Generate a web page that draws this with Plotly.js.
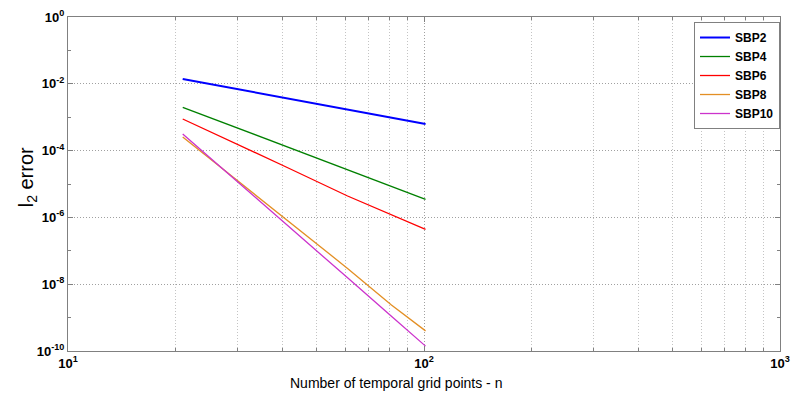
<!DOCTYPE html>
<html>
<head>
<meta charset="utf-8">
<script src="https://cdn.plot.ly/plotly-3.0.1.min.js"></script>
<style>
  html, body { margin: 0; padding: 0; background: #fff; }
  #chart { width: 792px; height: 394px; }
</style>
</head>
<body>
<div id="chart"></div>
<script>
// Data
const n = [21, 31, 41, 61, 81, 101];
const sbp2  = [1.39e-2, 6.48e-3, 3.73e-3, 1.70e-3, 9.66e-4, 6.25e-4];
const sbp4  = [1.98e-3, 4.11e-4, 1.34e-4, 2.64e-5, 8.36e-6, 3.48e-6];
const sbp6  = [8.83e-4, 1.33e-4, 3.23e-5, 4.37e-6, 1.22e-6, 4.4e-7];
const sbp8  = [2.55e-4, 9.46e-6, 8.83e-7, 2.97e-8, 2.38e-9, 4.0e-10];
const sbp10 = [3.14e-4, 8.53e-6, 6.3e-7, 1.55e-8, 1.09e-9, 1.40e-10];

const seriesNames = ['SBP2', 'SBP4', 'SBP6', 'SBP8', 'SBP10'];
const seriesData = [sbp2, sbp4, sbp6, sbp8, sbp10];
const seriesColors = ['#0000ff', '#008000', '#ff0000', '#e38f24', '#cc33cc'];
const seriesWidths = [2, 1.3, 1.3, 1.3, 1.3];

const xTickVals = [10, 100, 1000];
const xTickText = ['10<sup>1</sup>', '10<sup>2</sup>', '10<sup>3</sup>'];
const xMinorVals = [20, 30, 40, 50, 60, 70, 80, 90, 200, 300, 400, 500, 600, 700, 800, 900];
const yTickVals = [1, 1e-2, 1e-4, 1e-6, 1e-8, 1e-10];
const yTickText = ['10<sup>0</sup>', '10<sup>-2</sup>', '10<sup>-4</sup>', '10<sup>-6</sup>', '10<sup>-8</sup>', '10<sup>-10</sup>'];
const yMinorVals = [1e-1, 1e-3, 1e-5, 1e-7, 1e-9];

const FONT = 'Liberation Sans, Arial, Helvetica, sans-serif';

const traces = seriesNames.map((name, i) => ({
  x: n,
  y: seriesData[i],
  name: name,
  type: 'scatter',
  mode: 'lines',
  line: { color: seriesColors[i], width: seriesWidths[i] }
}));

const layout = {
  width: 792,
  height: 394,
  margin: { l: 68, r: 12, t: 17, b: 43 },
  paper_bgcolor: '#ffffff',
  plot_bgcolor: '#ffffff',
  font: { family: FONT, color: '#000000', size: 13 },
  showlegend: true,
  legend: {
    x: 1, xanchor: 'right', y: 0.985, yanchor: 'top',
    bgcolor: '#ffffff',
    bordercolor: '#808080',
    borderwidth: 1,
    font: { family: FONT, size: 12, weight: 'bold', color: '#000' },
    tracegroupgap: 0
  },
  xaxis: {
    type: 'log',
    range: [1, 3],
    tickmode: 'array',
    tickvals: xTickVals,
    ticktext: xTickText,
    tickfont: { family: FONT, size: 13, weight: 'bold' },
    ticks: 'inside',
    ticklen: 5,
    tickcolor: '#808080',
    showline: true,
    linecolor: '#808080',
    linewidth: 1,
    mirror: 'ticks',
    showgrid: true,
    gridcolor: '#a0a0a0',
    griddash: '1px,2px',
    gridwidth: 1,
    zeroline: false,
    minor: {
      tickmode: 'array',
      tickvals: xMinorVals,
      ticks: 'inside',
      ticklen: 3,
      tickcolor: '#808080',
      showgrid: true,
      gridcolor: '#c4c4c4',
      griddash: '1px,2px',
      gridwidth: 1
    }
  },
  yaxis: {
    type: 'log',
    range: [-10, 0],
    tickmode: 'array',
    tickvals: yTickVals,
    ticktext: yTickText,
    tickfont: { family: FONT, size: 13, weight: 'bold' },
    ticks: 'inside',
    ticklen: 5,
    tickcolor: '#808080',
    showline: true,
    linecolor: '#808080',
    linewidth: 1,
    mirror: 'ticks',
    showgrid: true,
    gridcolor: '#a0a0a0',
    griddash: '1px,2px',
    gridwidth: 1,
    zeroline: false,
    minor: {
      tickmode: 'array',
      tickvals: yMinorVals,
      ticks: 'inside',
      ticklen: 3,
      tickcolor: '#808080',
      showgrid: false
    }
  },
  annotations: [
    {
      text: 'Number of temporal grid points - n',
      xref: 'paper', yref: 'paper',
      x: 0.46, y: 0, yshift: -32,
      xanchor: 'center', yanchor: 'middle',
      showarrow: false,
      font: { family: FONT, size: 14, color: '#000' }
    },
    {
      text: 'l<sub>2</sub> error',
      xref: 'paper', yref: 'paper',
      x: 0, xshift: -41, y: 0.52,
      xanchor: 'center', yanchor: 'middle',
      textangle: -90,
      showarrow: false,
      font: { family: FONT, size: 20, color: '#000' }
    }
  ]
};

Plotly.newPlot('chart', traces, layout, { displayModeBar: false, staticPlot: true });
</script>
</body>
</html>
